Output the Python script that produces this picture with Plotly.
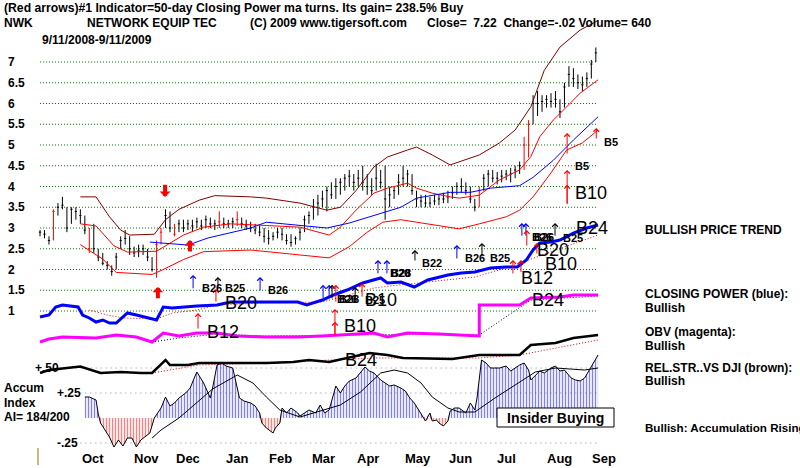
import plotly.graph_objects as go

# ---------------- data (x = trading-day index, 9/11/2008 .. 9/11/2009) ----------------
bar_day = list(range(0, 249, 2))
bar_high = [2.95,2.95,2.8,3.45,3.6,3.75,3.5,3.5,3.5,3.45,
            3.3,3.0,3.1,2.5,2.4,2.2,2.1,2.4,2.8,2.95,
            2.8,2.55,2.6,2.6,2.5,2.3,2.7,3.0,3.45,3.4,
            3.1,3.2,3.2,3.2,3.2,3.25,3.2,3.3,3.25,3.2,
            3.4,3.25,3.2,3.25,3.4,3.25,3.2,3.15,3.1,3.05,
            3.0,2.95,2.9,3.0,3.0,2.85,2.85,2.8,3.0,3.3,
            3.4,3.7,3.8,3.9,4.0,4.1,4.2,4.2,4.3,4.4,
            4.3,4.4,4.5,4.3,4.2,4.55,4.4,4.5,4.0,4.0,
            4.3,4.5,4.4,4.3,3.9,3.8,3.8,3.75,3.8,3.8,
            3.85,3.9,4.0,4.1,4.2,4.1,4.0,3.7,4.0,4.3,
            4.4,4.4,4.35,4.4,4.4,4.45,4.5,4.6,5.2,5.6,
            6.2,6.3,6.2,6.2,6.25,6.3,6.1,6.5,6.9,6.85,
            6.7,6.65,6.75,7.05,7.35]
bar_low = [2.8,2.75,2.6,2.7,3.3,3.45,2.9,3.1,3.2,3.1,
           2.85,2.4,2.4,2.2,2.1,2.0,1.85,2.0,2.5,2.6,
           2.35,2.3,2.3,2.35,2.2,1.95,1.8,2.6,3.0,2.9,
           2.8,2.9,2.9,2.95,2.9,3.0,2.95,3.0,3.0,2.95,
           3.0,3.0,3.0,3.0,3.05,3.0,2.95,2.9,2.85,2.8,
           2.65,2.6,2.7,2.75,2.7,2.6,2.55,2.6,2.7,2.9,
           3.1,3.2,3.3,3.5,3.4,3.7,3.7,3.8,3.9,4.0,
           3.9,4.0,3.9,3.8,3.8,3.9,3.95,3.2,3.5,3.7,
           3.8,4.0,4.0,3.8,3.5,3.5,3.5,3.5,3.55,3.55,
           3.6,3.6,3.7,3.8,3.85,3.8,3.6,3.4,3.5,3.9,
           4.0,4.1,4.05,4.1,4.15,4.1,4.2,4.3,4.4,4.7,
           5.5,5.7,5.8,5.9,5.9,5.9,5.65,5.9,6.4,6.4,
           6.35,6.3,6.4,6.6,7.0]
bar_close = [2.9,2.85,2.7,3.4,3.5,3.55,3.0,3.45,3.4,3.3,
             2.95,2.5,2.5,2.3,2.15,2.1,1.95,2.3,2.7,2.75,
             2.5,2.4,2.45,2.5,2.3,2.0,2.6,2.9,3.3,3.0,
             2.85,3.1,3.0,3.1,3.05,3.15,3.05,3.2,3.1,3.1,
             3.15,3.1,3.1,3.15,3.2,3.1,3.05,3.0,2.95,2.9,
             2.8,2.75,2.8,2.9,2.85,2.7,2.65,2.75,2.9,3.2,
             3.3,3.5,3.6,3.7,3.9,3.8,4.0,4.1,4.2,4.25,
             4.1,4.2,4.1,4.0,3.9,4.2,4.1,3.7,3.8,3.9,
             4.1,4.2,4.3,3.9,3.7,3.65,3.6,3.6,3.65,3.7,
             3.7,3.75,3.85,4.0,4.0,3.9,3.7,3.5,3.9,4.2,
             4.3,4.2,4.2,4.25,4.3,4.3,4.4,4.5,5.0,5.5,
             6.0,6.0,6.05,6.1,6.05,6.1,5.8,6.4,6.7,6.6,
             6.5,6.45,6.6,6.95,7.22]
red_bar_days = [6, 22, 52, 54, 60, 80, 88, 196, 216, 218]

upper_day = [18,25,31,36,40,51,56,62,71,78,94,101,116,128,134,141,149,155,164,168,175,183,196,205,212,219,225,232,241,249]
upper_val = [3.75,3.75,3.27,2.95,2.83,2.85,3.2,3.45,3.67,3.78,3.75,3.72,3.6,3.43,3.5,3.9,4.47,4.71,4.88,4.95,4.76,4.52,4.76,5.05,5.36,5.92,6.8,7.36,7.77,8.0]
mid_day = [18,25,33,39,52,58,64,73,85,101,116,129,134,141,149,155,164,168,175,183,187,196,205,214,219,223,229,235,241,249]
mid_val = [3.1,3.05,2.57,2.42,2.44,2.64,2.83,3.02,3.1,3.06,3.02,2.83,3.02,3.43,3.84,3.96,4.08,3.96,3.84,3.75,3.72,3.79,4.16,4.4,4.72,5.2,5.6,5.92,6.25,6.57]
lowb_day = [18,28,34,50,55,64,73,94,116,129,138,146,153,161,168,183,187,196,208,214,220,228,235,242,249]
lowb_val = [2.6,2.25,1.93,1.88,2.0,2.24,2.43,2.47,2.35,2.28,2.55,2.9,3.14,3.2,3.14,3.0,2.98,3.1,3.27,3.43,3.75,4.33,4.88,5.05,5.36]
ma_day = [49,66,75,85,94,101,116,128,138,149,161,168,183,192,201,214,220,229,238,249]
ma_val = [2.66,2.59,2.76,2.88,3.0,3.14,3.06,3.0,3.12,3.31,3.5,3.72,3.86,3.86,3.96,4.02,4.22,4.63,5.12,5.68]

cp_day = [0,4,7,10,17,19,22,25,28,31,34,39,43,49,52,55,59,70,79,85,100,115,119,126,131,137,144,152,155,161,167,173,182,188,194,201,208,213,217,220,223,228,232,238,244,249]
cp_val = [13,15,23,25,23,15,12,8,10,7,7,17,15,12,10,23,22,24,25,28,28,28,25,30,35,40,47,52,47,48,43,50,55,57,58,62,63,63,70,80,87,88,90,97,102,105]
cp_ma_day = [22,30,37,52,59,70,79,100,126,138,149,160,173,188,194,208,249]
cp_ma_val = [20,15,12,11,17,20,25,27,28,35,42,45,48,52,53,62,95]

obv_day = [0,4,10,25,34,43,50,55,62,70,79,88,100,115,126,134,149,155,164,178,196,196,214,219,232,238,249]
obv_val = [8,11,13,12,15,13,8,17,14,17,17,14,13,13,14,15,17,13,17,16,14,45,45,52,53,55,55]
obv_ma_day = [50,62,79,100,140,175,196,219,249]
obv_ma_val = [8,12,16,14,15,16,15,50,54]

rs_day = [0,4,12,18,27,36,45,50,56,58,66,71,79,88,101,113,120,129,147,155,162,184,196,214,219,230,238,249]
rs_val = [7,10,12,13.5,7,8,7,7,20,15,15,17,17,17,17,18,20,18,27,25,22,21,25,25,35,37,42,45]
rs_ma_day = [50,71,100,150,196,214,249]
rs_ma_val = [7,15,17,22,22,25,40]

ai_day = [20,22,25,26,27,29,31,33,35,37,39,41,43,45,47,49,51,54,56,58,
          60,62,65,67,69,70,73,74,76,77,79,81,83,86,87,89,91,94,96,98,
          99,101,104,105,107,108,110,112,115,116,118,120,123,125,127,129,132,134,136,138,
          141,143,145,147,149,152,154,156,158,161,163,165,167,170,172,174,175,177,178,180,
          182,183,185,187,190,192,194,195,197,199,201,203,205,208,210,212,214,216,218,219,
          221,223,225,228,230,232,234,237,239,241,243,245,246,249]
ai_val = [0.21,0.21,0.18,0.04,-0.05,-0.12,-0.19,-0.29,-0.22,-0.28,-0.2,-0.2,-0.29,-0.22,-0.18,-0.15,0.0,0.1,0.21,0.12,
          0.15,0.2,0.25,0.3,0.41,0.46,0.35,0.3,0.2,0.3,0.53,0.55,0.52,0.5,0.4,0.2,0.17,0.15,0.12,0.05,
          -0.05,-0.1,-0.15,-0.1,-0.05,0.1,0.05,0.1,0.05,0.02,0.05,0.08,0.05,0.13,0.05,0.08,0.32,0.25,0.32,0.37,
          0.4,0.45,0.51,0.47,0.45,0.38,0.35,0.32,0.33,0.3,0.27,0.2,0.15,0.05,-0.03,0.05,-0.03,-0.02,-0.05,-0.08,
          -0.03,0.07,0.1,0.1,0.05,0.15,0.08,0.2,0.58,0.55,0.5,0.5,0.5,0.52,0.47,0.5,0.53,0.55,0.48,0.38,
          0.42,0.47,0.45,0.5,0.52,0.47,0.48,0.4,0.38,0.37,0.4,0.48,0.52,0.63]
ai_ma_day = [50,54,62,71,77,88,95,101,107,116,125,134,143,152,158,164,170,175,182,187,194,203,212,221,230,243,249]
ai_ma_val = [-0.2,-0.12,0.0,0.18,0.29,0.43,0.35,0.21,0.08,0.01,0.07,0.13,0.26,0.45,0.48,0.45,0.35,0.21,0.1,0.06,0.06,0.2,0.33,0.46,0.5,0.48,0.5]

month_names = ["Oct","Nov","Dec","Jan","Feb","Mar","Apr","May","Jun","Jul","Aug","Sep"]
month_days = [23.7,47.3,66.0,87.9,107.1,126.3,146.4,168.7,187.4,208.0,231.6,251.7]
price_ticks = [7,6.5,6,5.5,5,4.5,4,3.5,3,2.5,2,1.5,1]
price_tick_text = ["7","6.5","6","5.5","5","4.5","4","3.5","3","2.5","2","1.5","1"]
ai_ticks = [0.5,0.25,-0.25]
ai_tick_text = ["+.50","+.25","-.25"]

# signal arrows: (day, head price, tail price, colour)
thin_arrows = [(68.3,1.87,1.51,'blue'),(79.4,1.82,1.51,'black'),(78.5,1.53,1.19,'red'),
               (70.5,0.95,0.54,'red'),(98.2,1.82,1.46,'blue'),(126.3,1.63,1.27,'blue'),
               (129.0,1.63,1.27,'blue'),(130.3,1.63,1.27,'black'),(132.0,1.63,1.19,'red'),
               (131.6,1.05,0.37,'red'),(131.6,0.74,0.37,'red'),(140.6,1.58,1.27,'black'),
               (143.7,1.67,1.31,'red'),(150.8,2.23,1.87,'blue'),(154.8,2.23,1.87,'blue'),
               (167.3,2.47,2.18,'black'),(186.0,2.59,2.23,'blue'),(197.2,2.64,2.28,'black'),
               (211.0,2.23,1.87,'red'),(214.6,2.23,1.90,'red'),(215.0,3.12,2.78,'blue'),
               (216.8,3.12,2.78,'blue'),(217.2,2.95,2.54,'red'),(221.7,2.64,2.35,'red'),
               (229.8,3.12,2.78,'black'),(235.2,4.40,3.55,'red'),(235.2,4.04,3.55,'red'),
               (235.2,5.29,4.76,'red'),(248.2,5.41,5.12,'red')]
thick_arrows = [(55.8,3.75,4.08),(52.6,1.58,1.27),(66.9,2.71,2.40)]
small_labels = [("B26",71.4,1.55),("B25",81.7,1.55),("B26",100.8,1.51),("B26",131.6,1.29),
                ("B28",132.6,1.29),("B25",144.1,1.27),("B20",155.3,1.92),("B28",155.6,1.92),
                ("B22",169.6,2.16),("B26",188.7,2.28),("B25",199.9,2.28),("B26",218.6,2.78),
                ("B26",219.4,2.78),("B25",232.5,2.76),("B5",237.8,4.49),("B5",250.8,5.07)]
big_labels = [("B20",81.6,1.19),("B12",73.6,0.49),("B10",134.7,0.64),("B10",144.1,1.27),
              ("B12",213.6,1.80),("B10",224.3,2.13),("B20",220.7,2.47),("B24",238.2,3.0),
              ("B10",237.8,3.84),("B24",218.6,1.27),("B24",135.1,-0.18)]

# ---------------- figure ----------------
W, H = 800, 468
FONT = "Liberation Sans, Arial, sans-serif"
fig = go.Figure()

def line(x, y, color, width, axis='y', dash=None):
    fig.add_trace(go.Scatter(x=x, y=y, mode='lines', yaxis=axis, hoverinfo='skip',
                             line=dict(color=color, width=width, dash=dash)))

# accumulation index (stripes)
ai_pos = [max(v, 0) for v in ai_val]
ai_neg = [min(v, 0) for v in ai_val]
fig.add_trace(go.Scatter(x=ai_day, y=ai_pos, yaxis='y5', mode='lines', fill='tozeroy',
                         line=dict(width=0, color='rgba(0,0,0,0)'), hoverinfo='skip',
                         fillpattern=dict(shape='|', fgcolor='#0000ff', bgcolor='rgba(0,0,0,0)',
                                          size=3, solidity=0.45)))
fig.add_trace(go.Scatter(x=ai_day, y=ai_neg, yaxis='y5', mode='lines', fill='tozeroy',
                         line=dict(width=0, color='rgba(0,0,0,0)'), hoverinfo='skip',
                         fillpattern=dict(shape='|', fgcolor='#ff0000', bgcolor='rgba(0,0,0,0)',
                                          size=3, solidity=0.45)))
line(ai_day, ai_val, '#000000', 1, 'y5')
line(ai_ma_day, ai_ma_val, '#000000', 1, 'y5')

# relative strength, OBV, closing power
line(rs_ma_day, rs_ma_val, '#ff0000', 1, 'y4', '1px,2px')
line(rs_day, rs_val, '#000000', 2.5, 'y4')
line(obv_ma_day, obv_ma_val, '#000000', 1, 'y3', '1px,2px')
line(obv_day, obv_val, '#ff00ff', 3, 'y3')
line(cp_ma_day, cp_ma_val, '#ff0000', 1, 'y2', '1px,2px')
line(cp_day, cp_val, '#0000ff', 3, 'y2')

# price bands and average
line(upper_day, upper_val, '#800000', 1)
line(mid_day, mid_val, '#ff0000', 1)
line(lowb_day, lowb_val, '#ff0000', 1)
line(ma_day, ma_val, '#0000ff', 1)

# price bars
blk = [i for i, d in enumerate(bar_day) if d not in red_bar_days]
red = [i for i, d in enumerate(bar_day) if d in red_bar_days]
for idx, col in ((blk, '#000000'), (red, '#ff0000')):
    fig.add_trace(go.Ohlc(x=[bar_day[i] for i in idx], open=[bar_close[i] for i in idx],
                          high=[bar_high[i] for i in idx], low=[bar_low[i] for i in idx],
                          close=[bar_close[i] for i in idx], tickwidth=0.25, hoverinfo='skip',
                          increasing_line_color=col, decreasing_line_color=col, line_width=1))

shapes = []
for v in price_ticks:
    shapes.append(dict(type='line', xref='x', yref='y', x0=0, x1=249, y0=v, y1=v, layer='below',
                       line=dict(color='#008000', width=1, dash='1px,2px')))
for v, x0 in zip(ai_ticks, [7, 18, 18]):
    shapes.append(dict(type='line', xref='x', yref='y5', x0=x0, x1=249, y0=v, y1=v, layer='below',
                       line=dict(color='#a08888', width=1, dash='1px,4px')))
shapes.append(dict(type='rect', xref='paper', yref='paper', x0=497/W, x1=614/W,
                   y0=1-427/H, y1=1-408/H, fillcolor='white', line=dict(color='black', width=1),
                   layer='above'))
shapes.append(dict(type='line', xref='paper', yref='paper', x0=38/W, x1=38/W,
                   y0=1-465/H, y1=1-448/H, line=dict(color='#808000', width=1)))

ann = []
def ptext(txt, px, py, size=12, bold=True, anchor='left'):
    ann.append(dict(text=("<b>%s</b>" % txt) if bold else txt, xref='paper', yref='paper',
                    x=px/W, y=1-py/H, xanchor=anchor, yanchor='middle', showarrow=False,
                    font=dict(size=size, color='black', family=FONT)))

ptext("(Red arrows)#1 Indicator=50-day Closing Power ma turns. Its gain= 238.5% Buy", 2, 8, size=12.2)
ptext("NWK", 2, 23)
ptext("NETWORK EQUIP TEC", 85, 23)
ptext("(C) 2009 www.tigersoft.com", 248, 23)
ptext("Close=\u00a0\u00a07.22\u00a0\u00a0Change=-.02 Volume= 640", 425, 23)
ptext("9/11/2008-9/11/2009", 40, 40)
ptext("BULLISH PRICE TREND", 643, 230)
ptext("CLOSING POWER (blue):", 643, 294)
ptext("Bullish", 643, 308)
ptext("OBV (magenta):", 643, 332)
ptext("Bullish", 643, 346)
ptext("REL.STR..VS DJI (brown):", 643, 368)
ptext("Bullish", 643, 381)
ptext("Bullish: Accumulation Rising", 643, 427, size=11.6)
ptext("Accum", 2, 388)
ptext("Index", 2, 403)
ptext("AI= 184/200", 2, 417)
ptext("Insider Buying", 555, 418, size=14, bold=True, anchor='center')

for v, t in zip(price_ticks, price_tick_text):
    ann.append(dict(text="<b>%s</b>" % t, xref='paper', yref='y', x=6/W, y=v, xanchor='left',
                    yanchor='middle', showarrow=False, font=dict(size=12, family=FONT, color='black')))
for v, t, px in zip(ai_ticks, ai_tick_text, [33, 55, 55]):
    ann.append(dict(text="<b>%s</b>" % t, xref='paper', yref='y5', x=px/W, y=v, xanchor='left',
                    yanchor='middle', showarrow=False, font=dict(size=12, family=FONT, color='black')))
for d, t in zip(month_days, month_names):
    ann.append(dict(text="<b>%s</b>" % t, xref='x', yref='paper', x=d, y=1-458/H, xanchor='center',
                    yanchor='middle', showarrow=False, font=dict(size=13, family=FONT, color='black')))

for d, hd, tl, c in thin_arrows:
    ann.append(dict(text='', x=d, y=hd, ax=d, ay=tl, xref='x', yref='y', axref='x', ayref='y',
                    showarrow=True, arrowhead=4, arrowsize=1.1, arrowwidth=1, arrowcolor=c, standoff=0))
for d, hd, tl in thick_arrows:
    ann.append(dict(text='', x=d, y=hd, ax=d, ay=tl, xref='x', yref='y', axref='x', ayref='y',
                    showarrow=True, arrowhead=1, arrowsize=0.45, arrowwidth=4, arrowcolor='#ff0000',
                    standoff=0))
for t, d, p in small_labels:
    ann.append(dict(text="<b>%s</b>" % t, x=d, y=p, xref='x', yref='y', xanchor='left', yanchor='middle',
                    showarrow=False, font=dict(size=11, family=FONT, color='black')))
for t, d, p in big_labels:
    ann.append(dict(text=t, x=d, y=p, xref='x', yref='y', xanchor='left', yanchor='middle',
                    showarrow=False, font=dict(size=18, family=FONT, color='black')))

hidden = dict(visible=False, fixedrange=True)
fig.update_layout(
    width=W, height=H, margin=dict(l=0, r=0, t=0, b=0), showlegend=False,
    paper_bgcolor='white', plot_bgcolor='white', font=dict(family=FONT),
    xaxis=dict(range=[-17.85, 339.1], rangeslider=dict(visible=False), **hidden),
    yaxis=dict(range=[-2.783, 8.494], **hidden),
    yaxis2=dict(range=[-138, 330], overlaying='y', **hidden),
    yaxis3=dict(range=[-118, 350], overlaying='y', **hidden),
    yaxis4=dict(range=[-88, 380], overlaying='y', **hidden),
    yaxis5=dict(range=[-0.5, 4.18], overlaying='y', **hidden),
    shapes=shapes, annotations=ann,
)
fig.write_html("out.html")
